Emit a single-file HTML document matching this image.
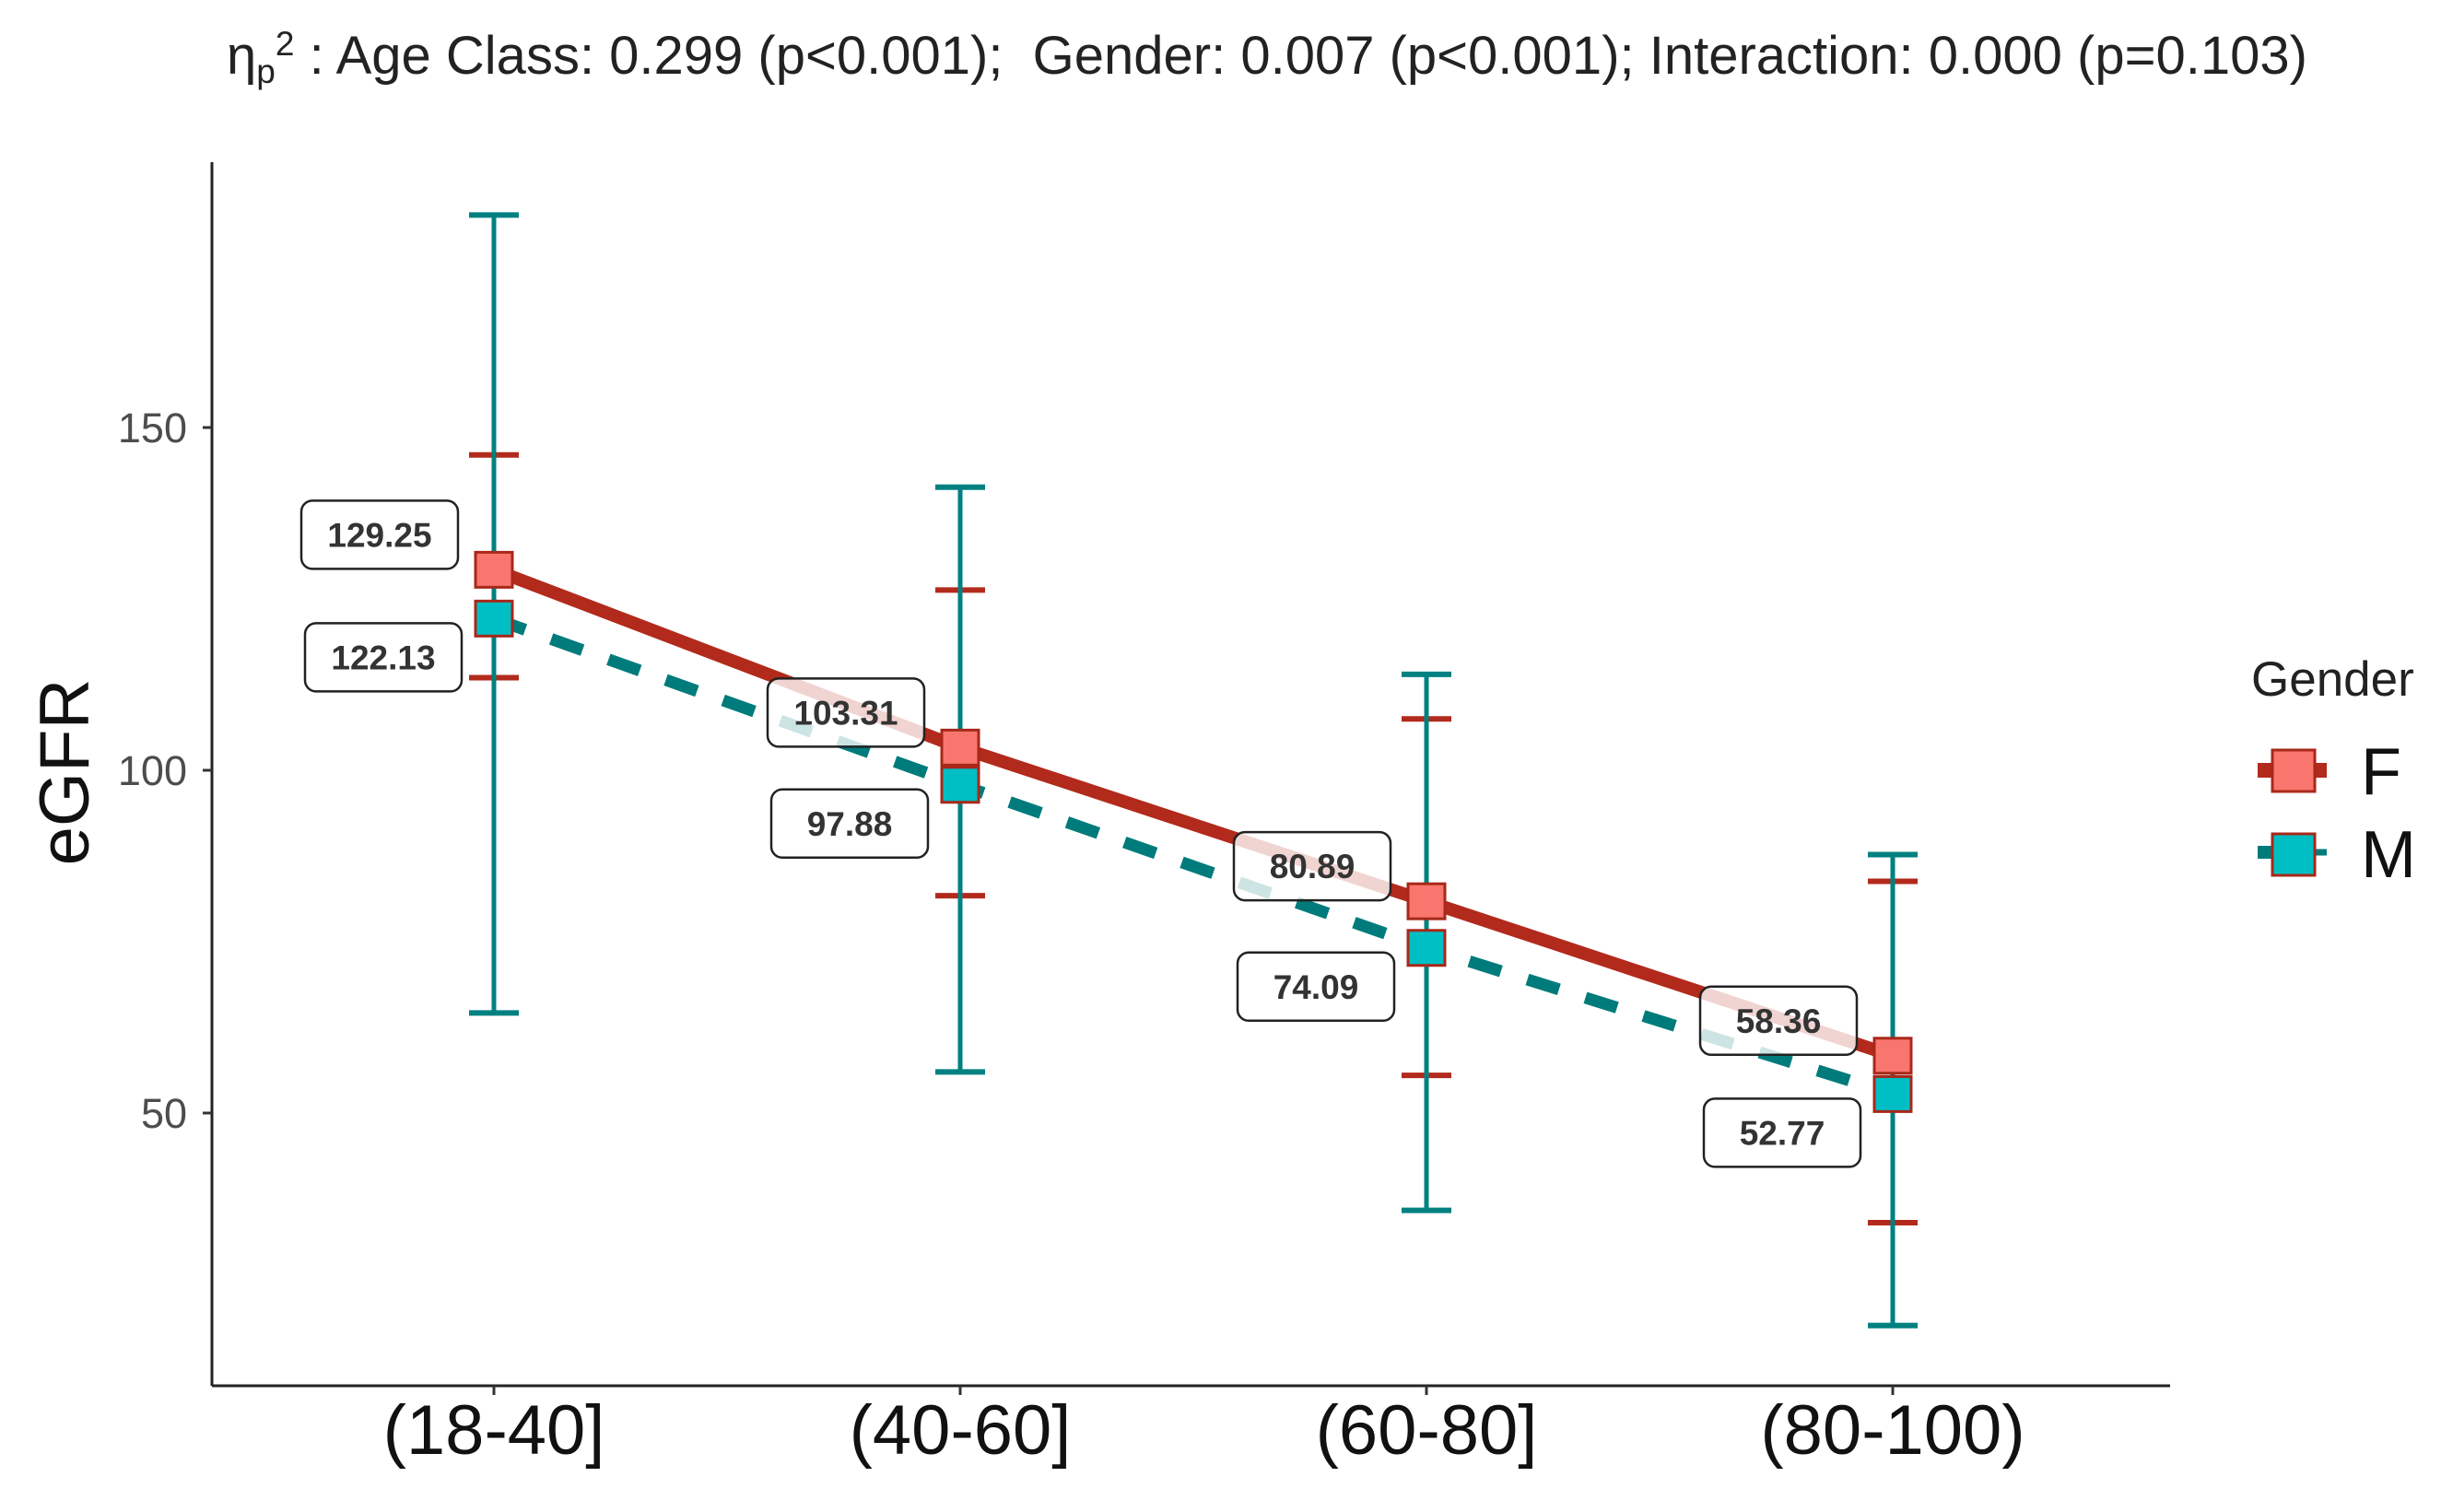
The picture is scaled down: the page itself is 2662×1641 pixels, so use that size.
<!DOCTYPE html>
<html><head><meta charset="utf-8"><style>
html,body{margin:0;padding:0;background:#fff;}
svg{display:block;font-family:"Liberation Sans",Arial,sans-serif;}
</style></head><body>
<svg id="chart" width="2662" height="1641" viewBox="0 0 2662 1641" xmlns="http://www.w3.org/2000/svg">
<text x="1375" y="80" text-anchor="middle" font-size="58" fill="#222" xml:space="preserve">η<tspan font-size="37" dy="10">p</tspan><tspan font-size="37" dy="-30">2</tspan><tspan dy="20"> : Age Class: 0.299 (p&lt;0.001);  Gender: 0.007 (p&lt;0.001); Interaction: 0.000 (p=0.103)</tspan></text>
<g id="axes"></g>
<g id="bars"></g>
<g id="lines"></g>
<g id="labels"></g>
<g id="marks"></g>
<g>
<text x="2443" y="755" font-size="53" fill="#222">Gender</text>
<g>
<line x1="2450" y1="836" x2="2525" y2="836" stroke="#b22a1c" stroke-width="16"/>
<rect x="2466" y="814" width="46" height="45" fill="#f8766d" stroke="#a8281a" stroke-width="3"/>
<text x="2562" y="862" font-size="72" fill="#111">F</text></g>
<g>
<line x1="2450" y1="925" x2="2478" y2="925" stroke="#007b7b" stroke-width="14"/>
<line x1="2500" y1="925" x2="2525" y2="925" stroke="#007b7b" stroke-width="7"/>
<rect x="2466" y="905" width="46" height="45" fill="#00bfc4" stroke="#a8281a" stroke-width="3"/>
<text x="2562" y="952" font-size="72" fill="#111">M</text></g>
</g>
</svg>
<script>
const categories=["(18-40]","(40-60]","(60-80]","(80-100)"];
const femaleMeans=[129.25,103.31,80.89,58.36];
const maleMeans=[122.13,97.88,74.09,52.77];
const femaleLow=[113.5,81.7,55.5,34];
const femaleHigh=[146,126.3,107.5,83.8];
const maleLow=[64.6,56,35.8,19];
const maleHigh=[181,141.3,114,87.7];
const yTicks=[50,100,150];

const NS="http://www.w3.org/2000/svg";
const plotLeft=230,plotRight=2355,plotTop=176,plotBottom=1504;
function xPos(i){return 536+i*506;}
function yPos(v){return 836-(v-100)*7.44;}
function mk(tag,attrs,parent){const e=document.createElementNS(NS,tag);for(const k in attrs)e.setAttribute(k,attrs[k]);parent.appendChild(e);return e;}
const axes=document.getElementById('axes'),bars=document.getElementById('bars'),lines=document.getElementById('lines'),labels=document.getElementById('labels'),marks=document.getElementById('marks');

let e=mk('line',{x1:plotLeft,y1:plotTop,x2:plotLeft,y2:plotBottom,stroke:'#222','stroke-width':3},axes);


e=mk('line',{x1:plotLeft,y1:plotBottom,x2:plotRight,y2:plotBottom,stroke:'#222','stroke-width':3},axes);


e=mk('text',{x:0,y:0,transform:'translate(96,838) rotate(-90)','text-anchor':'middle','font-size':76,fill:'#111'},axes);
e.textContent='eGFR';


yTicks.forEach(t=>{
  const y=yPos(t);
  let l=mk('line',{x1:plotLeft-10,y1:y,x2:plotLeft,y2:y,stroke:'#333','stroke-width':3},axes);
  
  
  let tx=mk('text',{x:plotLeft-27,y:y+16,'text-anchor':'end','font-size':45,fill:'#4d4d4d'},axes);
  tx.textContent=t;
  
  
});
categories.forEach((c,i)=>{
  const x=xPos(i);
  let l=mk('line',{x1:x,y1:plotBottom,x2:x,y2:plotBottom+10,stroke:'#333','stroke-width':3},axes);
  
  
  let tx=mk('text',{x:x,y:1578,'text-anchor':'middle','font-size':76,fill:'#111'},axes);
  tx.textContent=c;
  
  
});
function errBar(x,lo,hi,color,w,name){
  const g=mk('g',{},bars);
  
  
  mk('line',{x1:x,y1:yPos(lo),x2:x,y2:yPos(hi),stroke:color,'stroke-width':w},g);
  mk('line',{x1:x-27,y1:yPos(lo),x2:x+27,y2:yPos(lo),stroke:color,'stroke-width':6},g);
  mk('line',{x1:x-27,y1:yPos(hi),x2:x+27,y2:yPos(hi),stroke:color,'stroke-width':6},g);
}
categories.forEach((c,i)=>{
  errBar(xPos(i),femaleLow[i],femaleHigh[i],'#b22a1c',5,'error-bar-f');
  errBar(xPos(i),maleLow[i],maleHigh[i],'#008080',5,'error-bar-m');
});
let pf=femaleMeans.map((v,i)=>xPos(i)+','+yPos(v)).join(' ');
let pm=maleMeans.map((v,i)=>xPos(i)+','+yPos(v)).join(' ');
e=mk('polyline',{points:pm,fill:'none',stroke:'#007b7b','stroke-width':13,'stroke-dasharray':'36 30'},lines);


e=mk('polyline',{points:pf,fill:'none',stroke:'#b22a1c','stroke-width':14},lines);


function label(x,y,txt,name){
  const g=mk('g',{},labels);
  
  
  mk('rect',{x:x-85,y:y-37,width:170,height:74,rx:12,fill:'rgba(255,255,255,0.8)',stroke:'#222','stroke-width':2.5},g);
  const t=mk('text',{x:x,y:y+13,'text-anchor':'middle','font-size':37,'font-weight':'bold',fill:'#333'},g);
  t.textContent=txt;
}
categories.forEach((c,i)=>{
  label(xPos(i)-124,yPos(femaleMeans[i])-38,femaleMeans[i].toFixed(2),'label-f');
  label(xPos(i)-120,yPos(maleMeans[i])+42,maleMeans[i].toFixed(2),'label-m');
});
categories.forEach((c,i)=>{
  let r=mk('rect',{x:xPos(i)-20,y:yPos(maleMeans[i])-19,width:40,height:38,fill:'#00bfc4',stroke:'#a8281a','stroke-width':3},marks);
  
  
  r=mk('rect',{x:xPos(i)-20,y:yPos(femaleMeans[i])-19,width:40,height:38,fill:'#f8766d',stroke:'#a8281a','stroke-width':3},marks);
  
  
});
</script>
</body></html>
